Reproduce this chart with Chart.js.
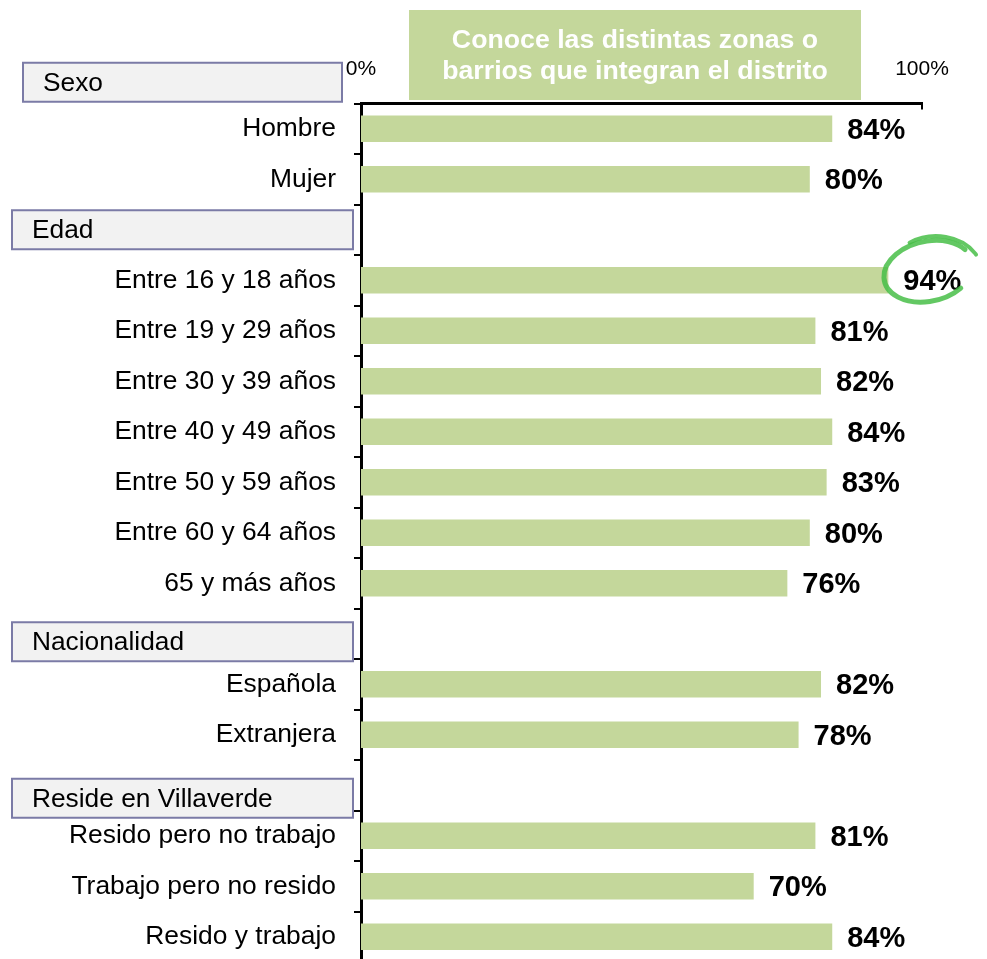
<!DOCTYPE html>
<html lang="es">
<head>
<meta charset="utf-8">
<title>Conoce las distintas zonas o barrios que integran el distrito</title>
<script src="https://cdn.jsdelivr.net/npm/chart.js@4.4.1/dist/chart.umd.min.js"></script>
<style>
    html, body { margin: 0; padding: 0; background: #fff; overflow: hidden; }
    #wrap { position: relative; width: 987px; height: 966px; }
</style>
</head>
<body>
<div id="wrap"><canvas id="knowChart"></canvas></div>
<script>
// Rows of the chart; empty strings leave room for the group headers
const rowLabels = [
    'Hombre', 'Mujer', '',
    'Entre 16 y 18 años', 'Entre 19 y 29 años', 'Entre 30 y 39 años', 'Entre 40 y 49 años',
    'Entre 50 y 59 años', 'Entre 60 y 64 años', '65 y más años', '',
    'Española', 'Extranjera', '',
    'Resido pero no trabajo', 'Trabajo pero no resido', 'Resido y trabajo'
];
const knowValues = [84, 80, null, 94, 81, 82, 84, 83, 80, 76, null, 82, 78, null, 81, 70, 84];
const xTickValues = [0, 100];

const groupTitles = ['Sexo', 'Edad', 'Nacionalidad', 'Reside en Villaverde'];
const groupRows = [-1, 2, 10, 13];
const chartTitle = ['Conoce las distintas zonas o', 'barrios que integran el distrito'];
const highlightRow = 3;

const FONT = "'Liberation Sans', Arial, sans-serif";
const BAR_GREEN = '#c4d79b';

// header boxes: left edge, width, nudge from the row centre, text start
const groupBoxLayout = [
    { x: 23, w: 319, dy: 4, textX: 43 },
    { x: 12, w: 341, dy: 0, textX: 32 },
    { x: 12, w: 341, dy: 8, textX: 32 },
    { x: 12, w: 341, dy: 13, textX: 32 }
];

/**
 * Title box, group headers and the small tick at 100%
 */
const decorPlugin = {
    id: 'decor',
    afterDraw(chart) {
        const ctx = chart.ctx;
        const yScale = chart.scales.y;
        const xScale = chart.scales.x;
        ctx.save();

        // green title box
        ctx.fillStyle = BAR_GREEN;
        ctx.fillRect(409, 10, 452, 90);
        ctx.fillStyle = '#fff';
        ctx.font = `bold 26.7px ${FONT}`;
        ctx.textAlign = 'center';
        ctx.textBaseline = 'middle';
        chartTitle.forEach((line, i) => ctx.fillText(line, 635, 41 + i * 31));

        // group header boxes
        ctx.font = `26.3px ${FONT}`;
        ctx.textAlign = 'left';
        groupTitles.forEach((title, i) => {
            const box = groupBoxLayout[i];
            const cy = yScale.getPixelForValue(groupRows[i]) + box.dy;
            ctx.fillStyle = '#f2f2f2';
            ctx.fillRect(box.x, cy - 19.5, box.w, 39);
            ctx.strokeStyle = '#7b7ba6';
            ctx.lineWidth = 2;
            ctx.strokeRect(box.x, cy - 19.5, box.w, 39);
            ctx.fillStyle = '#000';
            ctx.fillText(title, box.textX, cy + 1);
        });

        // tick at the 100% end of the top axis
        const xEnd = xScale.getPixelForValue(100);
        ctx.strokeStyle = '#000';
        ctx.lineWidth = 2;
        ctx.beginPath();
        ctx.moveTo(xEnd, chart.chartArea.top - 1);
        ctx.lineTo(xEnd, chart.chartArea.top + 6);
        ctx.stroke();
        ctx.restore();
    }
};

/**
 * Percent labels at the end of each bar, plus the ring on the top age group
 */
const valueLabelPlugin = {
    id: 'valueLabels',
    afterDatasetsDraw(chart) {
        const ctx = chart.ctx;
        const meta = chart.getDatasetMeta(0);
        ctx.save();
        ctx.font = `bold 29px ${FONT}`;
        ctx.fillStyle = '#000';
        ctx.textAlign = 'left';
        ctx.textBaseline = 'middle';
        meta.data.forEach((bar, i) => {
            const v = knowValues[i];
            if (v === null) return;
            const text = v + '%';
            ctx.fillText(text, bar.x + 15, bar.y + 2);

            if (i === highlightRow) {
                const cx = bar.x + 40;
                const cy = bar.y - 9;
                ctx.strokeStyle = 'rgba(72, 190, 72, 0.85)';
                ctx.lineWidth = 5;
                ctx.lineCap = 'round';
                // main loop, open where it meets the percent sign
                ctx.beginPath();
                ctx.ellipse(cx, cy, 45, 30, -0.22, 0.9, 2 * Math.PI - 0.45);
                ctx.stroke();
                // second pass along the top
                ctx.lineWidth = 4;
                ctx.beginPath();
                ctx.ellipse(cx + 6, cy + 4, 48, 39, -0.1, 4.25, 5.85);
                ctx.stroke();
            }
        });
        ctx.restore();
    }
};

const ctx = document.getElementById('knowChart');

new Chart(ctx, {
    type: 'bar',
    data: {
        labels: rowLabels,
        datasets: [{
            data: knowValues,
            backgroundColor: BAR_GREEN,
            borderWidth: 0,
            categoryPercentage: 1,
            barPercentage: 0.52
        }]
    },
    options: {
        indexAxis: 'y',
        responsive: true,
        maintainAspectRatio: false,
        animation: false,
        layout: { padding: { left: 0, right: 65, top: 0, bottom: 4 } },
        plugins: {
            legend: { display: false },
            tooltip: { enabled: false }
        },
        scales: {
            x: {
                position: 'top',
                min: 0,
                max: 100,
                afterBuildTicks: scale => {
                    scale.ticks = xTickValues.map(v => ({ value: v }));
                },
                afterFit: scale => {
                    scale.height = 103.5;
                    scale.paddingLeft = 0;
                    scale.paddingRight = 0;
                },
                ticks: {
                    callback: v => v + '%',
                    color: '#000',
                    font: { size: 21, family: FONT },
                    padding: 22,
                    maxRotation: 0
                },
                grid: { display: false, drawTicks: false },
                border: { display: true, color: '#000', width: 3 }
            },
            y: {
                afterFit: scale => {
                    scale.width = 361;
                    scale.paddingTop = 0;
                    scale.paddingBottom = 0;
                },
                ticks: {
                    color: '#000',
                    font: { size: 26.4, family: FONT },
                    padding: 18,
                    autoSkip: false
                },
                grid: {
                    offset: true,
                    drawOnChartArea: false,
                    drawTicks: true,
                    tickLength: 7,
                    color: '#000',
                    lineWidth: 2
                },
                border: { display: true, color: '#000', width: 3 }
            }
        }
    },
    plugins: [decorPlugin, valueLabelPlugin]
});
</script>
</body>
</html>
